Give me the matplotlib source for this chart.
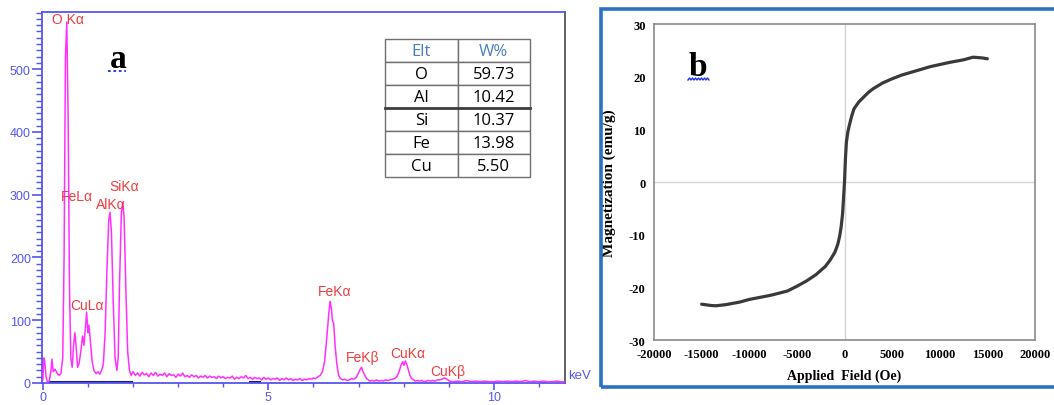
#!/usr/bin/env python3

import matplotlib
matplotlib.use('Agg')
import matplotlib.pyplot as plt
import numpy as np
from matplotlib.patches import Rectangle
from matplotlib.lines import Line2D
from matplotlib.ticker import MultipleLocator

# ======================================================================
# Data.
# ======================================================================

# (a) EDS spectrum, keV vs counts
spec_kev = [
    0.00, 0.02, 0.04, 0.07, 0.10, 0.14, 0.18, 0.20, 0.23, 0.27, 0.32, 0.36,
    0.40, 0.44, 0.47, 0.50, 0.53, 0.56, 0.59, 0.62, 0.65, 0.68, 0.71, 0.74,
    0.77, 0.80, 0.84, 0.88, 0.91, 0.94, 0.97, 1.00, 1.02, 1.05, 1.09, 1.13,
    1.18, 1.22, 1.26, 1.30, 1.34, 1.38, 1.42, 1.46, 1.49, 1.52, 1.56, 1.60,
    1.64, 1.67, 1.70, 1.74, 1.77, 1.80, 1.84, 1.88, 1.92, 1.96,
    2.00, 2.05, 2.10, 2.15, 2.20, 2.25, 2.30, 2.35, 2.40, 2.45, 2.50, 2.55,
    2.60, 2.65, 2.70, 2.75, 2.80, 2.85, 2.90, 2.95, 3.00, 3.05, 3.10, 3.15,
    3.20, 3.25, 3.30, 3.35, 3.40, 3.45, 3.50, 3.55, 3.60, 3.65, 3.70, 3.75,
    3.80, 3.85, 3.90, 3.95, 4.00, 4.05, 4.10, 4.15, 4.20, 4.25, 4.30, 4.35,
    4.40, 4.45, 4.50, 4.55, 4.60, 4.65, 4.70, 4.75, 4.80, 4.85, 4.90, 4.95,
    5.00, 5.05, 5.10, 5.15, 5.20, 5.25, 5.30, 5.35, 5.40, 5.45, 5.50, 5.55,
    5.60, 5.65, 5.70, 5.75, 5.80, 5.85, 5.90, 5.95, 6.00, 6.05, 6.10, 6.15,
    6.20, 6.25, 6.30, 6.34, 6.37, 6.40, 6.42, 6.45, 6.48, 6.52, 6.56, 6.60,
    6.65, 6.70, 6.75, 6.80, 6.85, 6.90, 6.95, 7.00, 7.04, 7.07, 7.10, 7.14,
    7.18, 7.22, 7.26, 7.30, 7.35, 7.40, 7.45, 7.50, 7.55, 7.60, 7.65, 7.70,
    7.75, 7.80, 7.85, 7.90, 7.94, 7.98, 8.01, 8.04, 8.07, 8.10, 8.14, 8.18,
    8.22, 8.26, 8.30, 8.35, 8.40, 8.45, 8.50, 8.55, 8.60, 8.65, 8.70, 8.75,
    8.80, 8.85, 8.90, 8.94, 8.98, 9.02, 9.10, 9.20, 9.30, 9.40, 9.50, 9.60,
    9.70, 9.80, 9.90, 10.0, 10.1, 10.2, 10.3, 10.4, 10.5, 10.6, 10.7, 10.8,
    10.9, 11.0, 11.1, 11.2, 11.3, 11.4, 11.5, 11.58,
    ]
spec_counts = [
    5, 40, 35, 10, 2, 3, 20, 38, 18, 22, 15, 12,
    15, 40, 200, 520, 575, 420, 150, 40, 25, 60, 80, 55,
    25, 30, 50, 75, 60, 85, 113, 80, 92, 70, 35, 20,
    15, 18, 14, 20, 30, 80, 180, 260, 272, 240, 130, 40,
    20, 40, 160, 270, 288, 265, 150, 50, 20, 12,
    18, 12, 16, 11, 17, 13, 15, 10, 16, 12, 17, 11,
    14, 12, 16, 10, 15, 12, 13, 9, 14, 11, 16, 10,
    12, 9, 13, 10, 12, 8, 11, 9, 12, 8, 11, 9,
    10, 7, 11, 8, 10, 7, 9, 8, 11, 6, 9, 7,
    10, 8, 12, 7, 9, 6, 9, 7, 8, 5, 9, 6,
    8, 5, 7, 6, 8, 4, 7, 5, 8, 5, 7, 4,
    6, 5, 7, 4, 6, 5, 7, 6, 8, 7, 10, 12,
    18, 35, 75, 110, 130, 118, 100, 95, 60, 30, 12, 7,
    5, 6, 4, 5, 7, 6, 9, 16, 22, 25, 18, 12,
    7, 5, 3, 4, 3, 5, 3, 4, 3, 5, 4, 5,
    6, 7, 10, 18, 28, 34, 28, 35, 30, 22, 12, 7,
    5, 3, 4, 3, 4, 2, 3, 4, 3, 4, 3, 5,
    5, 6, 8, 7, 5, 3, 2, 3, 2, 4, 2, 3,
    2, 3, 2, 2, 3, 2, 3, 2, 3, 2, 4, 2,
    3, 2, 3, 2, 2, 3, 2, 2,
    ]

peak_names = ['O K\u03b1', 'FeL\u03b1', 'SiK\u03b1', 'AlK\u03b1', 'CuL\u03b1',
              'FeK\u03b1', 'FeK\u03b2', 'CuK\u03b1', 'CuK\u03b2']
peak_kev = [0.55, 0.76, 1.80, 1.51, 0.97, 6.46, 7.09, 8.09, 8.98]
peak_label_y = [580, 298, 314, 285, 124, 146, 41, 48, 19]

# dark region-of-interest markers on the baseline
roi_start = [0.15, 4.60]
roi_end = [1.95, 4.80]

table_elt = ['O', 'Al', 'Si', 'Fe', 'Cu']
table_wt = ['59.73', '10.42', '10.37', '13.98', '5.50']

# (b) magnetization curve
field_oe = [-15000, -14000, -13500, -12500, -11000, -10000, -9000, -8000,
            -7500, -6000, -5000, -4000, -3000, -2000, -1500, -1000, -700,
            -500, -350, -200, 0, 100, 200, 350, 500, 750, 1000, 1500, 2000,
            2500, 3000, 4000, 5000, 6000, 7500, 9000, 10000, 11000, 12500,
            13500, 14500, 15000]
magn_emu = [-23.2, -23.45, -23.5, -23.3, -22.8, -22.3, -21.95, -21.6,
            -21.4, -20.7, -19.8, -18.8, -17.6, -16.0, -14.8, -13.3, -11.8,
            -10.2, -8.5, -6.0, 0.0, 4.5, 7.6, 9.5, 10.7, 12.5, 13.9, 15.2, 16.1,
            17.0, 17.7, 18.8, 19.6, 20.3, 21.1, 21.9, 22.3, 22.7, 23.2,
            23.7, 23.55, 23.4]

# ======================================================================
# Figure.
# ======================================================================

plt.rcParams['axes.unicode_minus'] = False

W, H = 1054, 406
fig = plt.figure(figsize=(W/100, H/100), dpi=100)

blue = '#5555ee'
red = '#f03c3c'
magenta = '#ff30ff'
sans = ['Liberation Sans', 'DejaVu Sans']
serif = ['Liberation Serif', 'DejaVu Serif']

# ---------------------------------------------------------------------- a
ax = fig.add_axes([42/W, 22/H, 523/W, 371/H])
ax.plot(spec_kev, spec_counts, color=magenta, lw=1.1, zorder=3)
for s, e in zip(roi_start, roi_end):
    ax.plot([s, e], [1.5, 1.5], color='#1c1c70', lw=2.2, zorder=2)
ax.set_xlim(-0.02, 11.58)
ax.set_ylim(0, 591)
for side in ['left', 'top', 'bottom']:
    ax.spines[side].set_color(blue)
    ax.spines[side].set_linewidth(1.3)
ax.spines['right'].set_color('#555555')
ax.spines['right'].set_linewidth(1.3)
ax.xaxis.set_major_locator(MultipleLocator(5))
ax.xaxis.set_minor_locator(MultipleLocator(1))
ax.yaxis.set_major_locator(MultipleLocator(100))
ax.yaxis.set_minor_locator(MultipleLocator(10))
ax.tick_params(axis='y', which='major', colors=blue, length=7,
               width=1.2, labelsize=9, pad=1)
ax.tick_params(axis='y', which='minor', colors=blue, length=4, width=1.0)
ax.tick_params(axis='x', which='major', colors=blue, length=5,
               width=1.2, labelsize=9, pad=1)
ax.tick_params(axis='x', which='minor', colors=blue, length=3, width=1.0)
for lab in ax.get_xticklabels() + ax.get_yticklabels():
    lab.set_family(sans)
ax.text(11.64, 12, 'keV', color=blue, fontsize=9.5, family=sans,
        ha='left', va='center', clip_on=False)

for name, xk, yl in zip(peak_names, peak_kev, peak_label_y):
    ax.text(xk, yl, name, color=red, fontsize=10, family=sans,
            ha='center', va='center')

ax.text(0.145, 0.852, 'a', transform=ax.transAxes, fontsize=24,
        fontweight='bold', family=serif, ha='center', va='baseline')
fig.add_artist(Line2D([108/W, 126/W], [(H-72)/H, (H-72)/H],
                      color='#1f2fe0', lw=1.3, ls=(0, (1.5, 1.5))))

cells = [['Elt', 'W%']] + [[e, w] for e, w in zip(table_elt, table_wt)]
tab = ax.table(cellText=cells, cellLoc='center',
               bbox=[0.656, 0.555, 0.277, 0.372])
tab.auto_set_font_size(False)
for (r, c), cell in tab.get_celld().items():
    cell.set_edgecolor('#707070')
    cell.set_linewidth(1.0)
    cell.get_text().set_fontsize(12)
    cell.get_text().set_family(['Open Sans', 'DejaVu Sans'])
    if r == 0:
        cell.get_text().set_color('#4a7ec4')
ax.plot([0.656, 0.933], [0.555 + 0.372*3/6]*2, transform=ax.transAxes,
        color='#404040', lw=2.0, zorder=5)

# ---------------------------------------------------------------------- b
fig.add_artist(Rectangle((601/W, 18/H), 470/W, 378/H, fill=False,
                         edgecolor='#2a72c8', lw=2.6))
bx = fig.add_axes([654/W, 65/H, 381/W, 316/H])
bx.axhline(0, color='#d4d4d4', lw=1.0, zorder=1)
bx.axvline(0, color='#d4d4d4', lw=1.0, zorder=1)
bx.plot(field_oe, magn_emu, color='#3a3a3a', lw=2.3, zorder=3,
        solid_capstyle='round', solid_joinstyle='round')
bx.set_xlim(-20000, 20000)
bx.set_ylim(-30, 30)
bx.set_xticks(np.arange(-20000, 20001, 5000))
bx.set_yticks(np.arange(-30, 31, 10))
for sp in bx.spines.values():
    sp.set_color('#8a8a8a')
    sp.set_linewidth(1.2)
bx.tick_params(length=0, labelsize=9, pad=6)
for lab in bx.get_xticklabels() + bx.get_yticklabels():
    lab.set_family(serif)
    lab.set_fontweight('bold')
bx.set_xlabel('Applied  Field (Oe)', family=serif, fontweight='bold',
              fontsize=10, labelpad=6)
bx.set_ylabel('Magnetization (emu/g)', family=serif, fontweight='bold',
              fontsize=11, labelpad=9)
bx.text(0.115, 0.839, 'b', transform=bx.transAxes, fontsize=24,
        fontweight='bold', family=serif, ha='center', va='baseline')
wx = np.linspace(688, 709, 15)
wy = np.array([0, 1] * 7 + [0]) * 2.0 + (H - 81)
fig.add_artist(Line2D(wx/W, wy/H, color='#1f2fe0', lw=1.0))

fig.savefig('out.png', dpi=100)
